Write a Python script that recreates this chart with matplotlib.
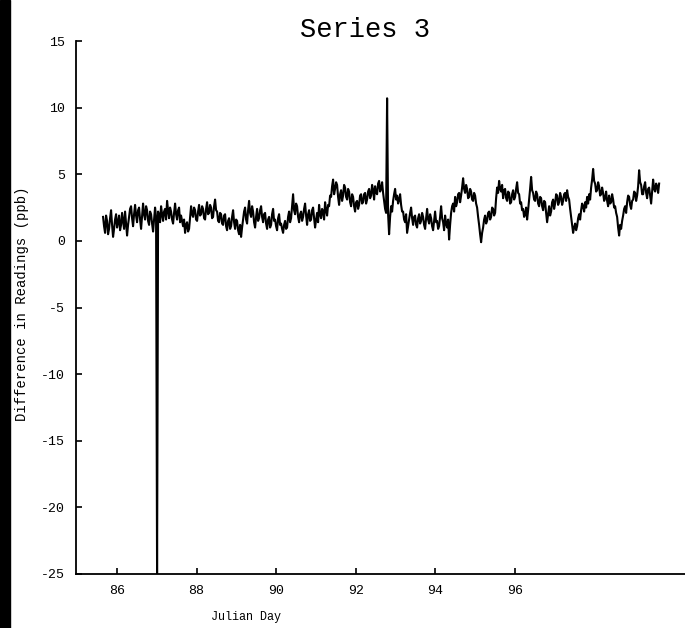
import numpy as np
import matplotlib
matplotlib.use("Agg")
import matplotlib.pyplot as plt
from matplotlib.patches import Rectangle

plt.rcParams['font.family'] = ['Liberation Mono', 'DejaVu Sans Mono']

# sampling window of the record (Julian day)
day_start = 85.65
day_end = 99.62

# difference in readings (ppb), evenly spaced samples over the window
diff_ppb = [
    1.8, 1.1, 0.6, 1.9, 1.5, 0.5, 0.9, 1.7, 2.3, 1.2, 0.3, 0.9, 1.6, 2.0, 1.0, 1.4, 1.9, 0.8, 1.2, 2.1,
    1.5, 0.9, 2.2, 1.3, 0.4, 1.2, 1.8, 2.4, 2.6, 1.7, 1.1, 2.0, 2.7, 1.9, 1.4, 2.3, 2.5, 1.6, 0.9, 1.9,
    2.8, 2.0, 1.6, 2.6, 2.3, 1.5, 1.2, 2.2, 2.0, 1.3, 0.7, 1.6, 2.5, 1.8, -25.0, 2.2, 1.9, 1.4, 2.6, 2.0,
    1.5, 2.2, 2.4, 1.6, 3.0, 2.3, 1.7, 2.5, 2.2, 1.6, 1.3, 2.1, 2.8, 2.0, 1.6, 2.3, 2.5, 1.4, 1.9, 1.5,
    1.1, 1.6, 0.6, 1.2, 1.4, 0.7, 0.9, 1.8, 2.6, 2.0, 1.8, 2.5, 2.3, 1.6, 1.5, 2.2, 2.7, 1.9, 2.0, 2.6,
    2.4, 1.7, 1.6, 2.4, 2.9, 2.0, 2.1, 2.7, 2.5, 1.7, 1.8, 2.6, 3.1, 2.3, 2.2, 1.5, 1.4, 2.1, 2.0, 1.3,
    1.2, 1.9, 2.0, 1.1, 0.8, 1.5, 1.7, 0.9, 1.1, 1.8, 2.3, 1.4, 0.9, 1.6, 1.5, 0.8, 0.5, 1.2, 0.3, 1.0,
    1.6, 2.2, 2.5, 1.6, 1.3, 2.3, 3.0, 2.1, 1.8, 2.6, 2.2, 1.4, 1.0, 1.8, 2.4, 1.5, 1.7, 2.3, 2.6, 1.8,
    1.4, 2.0, 2.1, 1.3, 0.9, 1.6, 1.8, 1.0, 1.2, 2.0, 2.4, 1.5, 1.6, 1.1, 0.8, 1.7, 2.0, 1.2, 1.3, 0.9,
    0.6, 1.2, 1.5, 0.9, 1.0, 1.8, 2.2, 1.4, 1.7, 2.6, 3.5, 2.3, 2.0, 2.8, 2.6, 1.8, 1.4, 2.0, 2.2, 1.5,
    1.8, 2.4, 2.8, 1.9, 1.2, 2.0, 2.3, 1.5, 1.6, 2.3, 2.5, 1.7, 1.0, 1.6, 2.1, 1.4, 2.7, 2.0, 1.7, 2.4,
    2.2, 1.6, 2.9, 2.3, 1.9, 2.7, 2.6, 3.4, 3.3, 4.1, 4.6, 3.5, 3.9, 4.4, 4.2, 3.3, 2.7, 3.5, 3.8, 3.0,
    3.4, 4.2, 4.0, 3.3, 3.1, 3.9, 3.7, 2.9, 2.6, 3.5, 3.3, 2.6, 2.2, 2.9, 3.0, 2.4, 2.7, 3.4, 3.5, 2.8,
    2.9, 3.5, 3.6, 2.8, 3.1, 3.7, 3.9, 3.2, 3.4, 4.2, 3.8, 3.1, 4.1, 3.6, 3.5, 4.3, 4.5, 3.7, 3.9, 4.4,
    3.6, 3.0, 2.4, 2.1, 10.7, 2.0, 0.5, 1.8, 2.6, 2.2, 3.0, 3.5, 3.9, 3.1, 3.4, 2.8, 3.1, 3.5, 2.7, 2.2,
    2.2, 1.6, 1.4, 2.0, 0.6, 1.1, 1.6, 2.1, 2.5, 1.7, 1.2, 1.8, 1.9, 1.2, 1.0, 1.7, 2.0, 1.3, 1.5, 2.1,
    1.8, 1.2, 0.9, 1.7, 2.4, 1.6, 1.3, 2.0, 1.7, 1.1, 0.8, 1.5, 2.2, 1.4, 1.5, 0.9, 1.1, 1.8, 2.6, 1.7,
    1.4, 0.8, 1.9, 1.3, 1.0, 1.6, 0.1, 1.2, 2.1, 2.6, 2.8, 2.2, 3.3, 2.6, 2.9, 3.5, 3.6, 2.9, 3.4, 4.0,
    4.7, 3.9, 3.6, 4.2, 3.9, 3.2, 3.3, 3.9, 3.7, 3.1, 3.0, 3.6, 3.4, 2.8, 2.5, 1.8, 1.2, 0.5, -0.1, 0.6,
    1.0, 1.6, 1.9, 1.3, 1.5, 2.1, 2.2, 1.6, 1.8, 2.5, 2.4, 1.9, 2.1, 3.2, 4.0, 3.6, 4.5, 3.9, 3.7, 4.2,
    3.2, 3.8, 3.9, 3.2, 3.0, 3.7, 3.6, 2.8, 2.9, 3.5, 3.8, 3.1, 3.3, 3.9, 4.4, 3.6, 3.5, 2.8, 2.9, 2.3,
    2.4, 1.8, 2.0, 2.5, 1.6, 2.3, 3.1, 3.9, 4.8, 3.8, 3.6, 3.1, 3.0, 3.7, 3.5, 2.8, 2.6, 3.3, 3.2, 2.6,
    2.3, 3.0, 2.9, 2.1, 1.4, 2.0, 2.6, 1.9, 2.2, 2.9, 3.1, 2.4, 2.8, 3.5, 3.4, 2.7, 2.9, 3.6, 3.3, 2.7,
    3.0, 3.5, 3.6, 3.0, 3.8, 3.3, 3.1, 2.4, 1.8, 1.2, 0.6, 1.0, 1.3, 0.8, 1.1, 1.7, 2.0, 1.6, 2.3, 2.8,
    2.6, 2.2, 2.9, 2.5, 3.3, 2.8, 3.5, 3.1, 4.0, 4.6, 5.4, 4.5, 4.3, 3.7, 3.8, 4.4, 4.1, 3.4, 3.5, 4.0,
    3.6, 3.0, 3.2, 3.7, 3.0, 2.6, 3.4, 2.8, 2.9, 3.5, 3.1, 2.5, 2.6, 2.1, 1.8, 1.0, 0.4, 1.2, 0.9, 1.5,
    1.9, 2.4, 2.6, 2.1, 2.9, 3.4, 3.3, 2.7, 2.4, 3.0, 3.1, 3.7, 3.6, 3.0, 3.4, 4.1, 5.3, 4.4, 4.2, 3.5,
    3.5, 4.1, 4.4, 3.6, 3.2, 3.9, 4.0, 3.4, 2.8, 3.7, 4.6, 3.9, 3.7, 4.3, 4.1, 3.6, 4.3,
]

x_ticks = [86, 88, 90, 92, 94, 96]
y_ticks = [-25, -20, -15, -10, -5, 0, 5, 10, 15]

fig = plt.figure(figsize=(6.85, 6.28), dpi=100)
ax = fig.add_axes([76 / 685, 54 / 628, 1 - 76 / 685, 533 / 628])

days = np.linspace(day_start, day_end, len(diff_ppb))
ax.plot(days, diff_ppb, color='black', lw=1.5)

ax.set_xlim(84.97, 100.27)
ax.set_ylim(-25, 15)
ax.set_xticks(x_ticks)
ax.set_yticks(y_ticks)
ax.set_xticklabels([str(t) for t in x_ticks])
ax.set_yticklabels([str(t) for t in y_ticks])

for side in ['top', 'right']:
    ax.spines[side].set_visible(False)
for side in ['left', 'bottom']:
    ax.spines[side].set_linewidth(1.3)

ax.tick_params(axis='both', direction='in', length=4, width=1.2, labelsize=9.5)
ax.tick_params(axis='y', pad=8)
ax.tick_params(axis='x', pad=8)

fig.text(365 / 685, 1 - 30 / 628, 'Series 3', ha='center', va='center', fontsize=19.5)
fig.text(246 / 685, 1 - 617 / 628, 'Julian Day', ha='center', va='center', fontsize=8.5)
fig.text(22 / 685, 1 - 304 / 628, 'Difference in Readings (ppb)', ha='center', va='center',
         rotation=90, fontsize=10)

# dark strip along the left edge of the page
fig.patches.append(Rectangle((0, 0), 10 / 685, 1, transform=fig.transFigure,
                             color='black', zorder=5))

fig.savefig('out.png', dpi=100)
